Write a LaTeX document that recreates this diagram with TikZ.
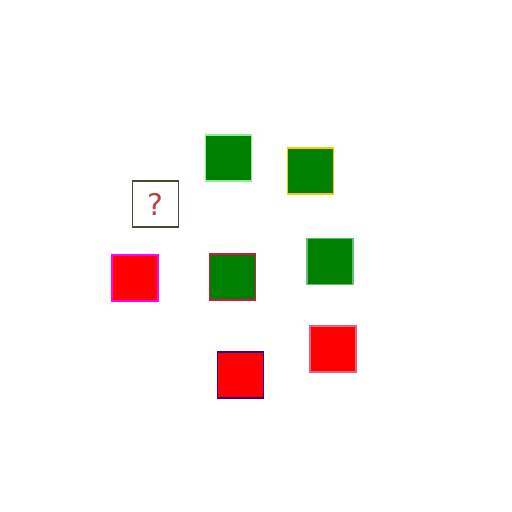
\documentclass[tikz,border=0pt]{standalone}
\usepackage{fontspec}
\setmainfont{DejaVu Sans}
\definecolor{qborder}{RGB}{74,74,48}
\definecolor{qtext}{RGB}{192,64,64}
\definecolor{sqgreen}{RGB}{0,128,0}
\definecolor{sqred}{RGB}{255,0,0}
\definecolor{lightgreenline}{RGB}{144,238,144}
\definecolor{goldline}{RGB}{255,200,0}
\definecolor{magentaline}{RGB}{255,0,255}
\definecolor{crimsonline}{RGB}{210,20,80}
\definecolor{seagreenline}{RGB}{100,190,120}
\definecolor{pinkline}{RGB}{225,100,130}
\definecolor{indigoline}{RGB}{60,0,140}
\usetikzlibrary{positioning}

\tikzset{
  tile/.style={draw, line width=0.6pt, minimum size=0.92cm, inner sep=0pt},
  greentile/.style={tile, fill=sqgreen},
  redtile/.style={tile, fill=sqred},
  quizbox/.style={tile, draw=qborder, fill=white, text=qtext, font=\fontsize{17}{17}\selectfont}
}

\begin{document}
\begin{tikzpicture}[x=0.02cm, y=-0.02cm]
  \useasboundingbox (0,0) rectangle (512,512);

  % unknown tile
  \node[quizbox] (quiz) at (155.5,204) {?};

  % green tiles
  \node[greentile, draw=lightgreenline] (gtop) at (228.5,158) {};
  \node[greentile, draw=goldline] (gtopright) at (310.5,171) {};
  \node[greentile, draw=crimsonline] (gmid) at (232.5,277) {};
  \node[greentile, draw=seagreenline] (gright) at (330,261.5) {};

  % red tiles
  \node[redtile, draw=magentaline] (rleft) at (135,278) {};
  \node[redtile, draw=pinkline] (rright) at (333,349) {};
  \node[redtile, draw=indigoline] (rbottom) at (240.5,375) {};
\end{tikzpicture}
\end{document}
